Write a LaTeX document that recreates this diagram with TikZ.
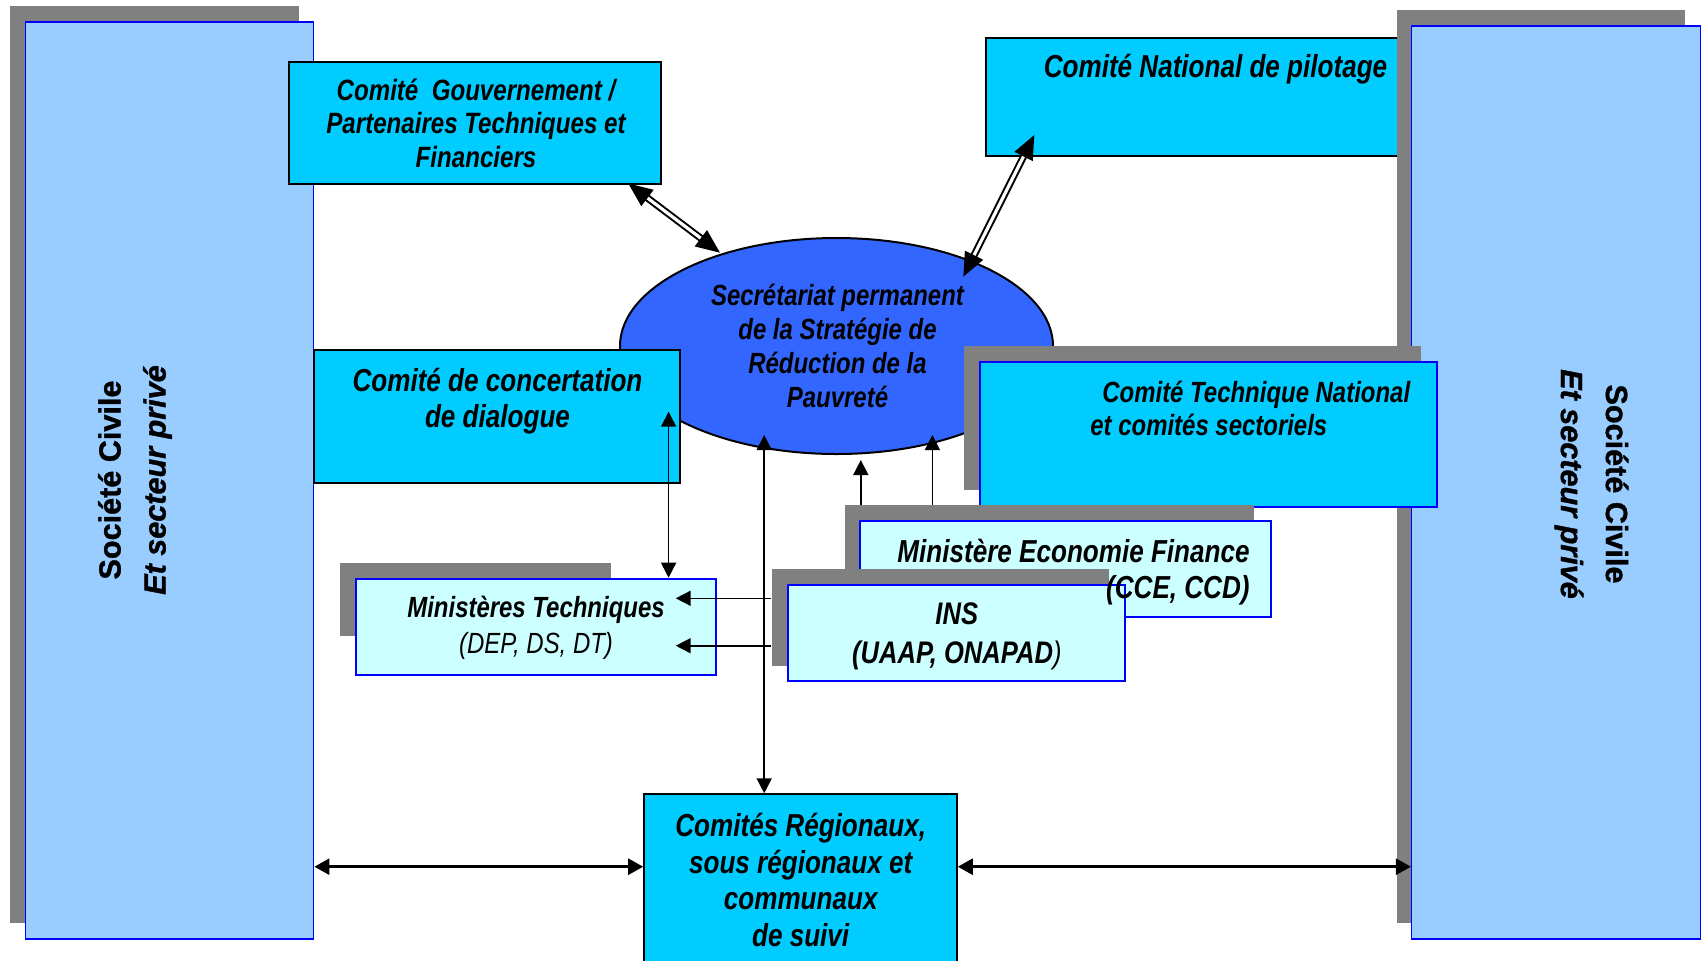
\documentclass[tikz,border=0pt]{standalone}
\usepackage{fontspec}
\setmainfont{Liberation Sans}
\newfontfamily\nar[FakeStretch=0.82]{Liberation Sans}
\newfontfamily\sideb[BoldFeatures={FakeBold=1.2},BoldItalicFeatures={FakeBold=1.2}]{Liberation Sans}
\usetikzlibrary{arrows.meta,fit,shapes.geometric}
\definecolor{sidebl}{HTML}{99CCFF}
\definecolor{cyanb}{HTML}{00CCFF}
\definecolor{lcyan}{HTML}{CCFFFF}
\definecolor{shad}{HTML}{808080}
\definecolor{ellb}{HTML}{3366FF}
\definecolor{bord}{HTML}{0000FF}
\newcommand\fz[2]{\fontsize{#1}{#2}\selectfont}
\begin{document}
\begin{tikzpicture}[x=0.5pt,y=-0.5pt,
  shadowbox/.style={fill=shad, draw=none, inner sep=0pt},
  sidebox/.style={fill=sidebl, draw=bord, line width=0.7pt, inner sep=0pt},
  blackbox/.style={fill=cyanb, draw=black, line width=1pt, inner sep=0pt},
  bluebox/.style={fill=cyanb, draw=bord, line width=1pt, inner sep=0pt},
  lightbox/.style={fill=lcyan, draw=bord, line width=1pt, inner sep=0pt},
  lbl/.style={inner sep=0pt, align=center, font=\nar\bfseries\itshape},
  sidelbl/.style={inner sep=0pt, align=center, font=\sideb\bfseries\fz{15.3pt}{22.5pt}},
  thinarrow/.style={line width=0.8pt, arrows={-Triangle[length=7.5pt,width=7.5pt]}},
  thinboth/.style={line width=0.8pt, arrows={Triangle[length=7.5pt,width=7.5pt]-Triangle[length=7.5pt,width=7.5pt]}},
  thickboth/.style={line width=1.3pt, arrows={Triangle[length=7.5pt,width=8pt]-Triangle[length=7.5pt,width=8pt]}},
  dblarrow/.style={line width=1pt, double=white, double distance=1.6pt,
     arrows={Triangle[length=12pt,width=10pt]-Triangle[length=12pt,width=10pt]}}]
\useasboundingbox (0,0) rectangle (1702,960);
\clip (0,0) rectangle (1702,960);
% left side
\node[shadowbox, fit={(9.8,6) (298.5,922.7)}] (ls) {};
\node[sidebox, fit={(25.5,22) (313.7,939)}] (lb) {};
% top boxes
\node[blackbox, fit={(289,61.7) (660.5,183.7)}] (cg) {};
\node[blackbox, fit={(985.6,37.7) (1445,156.3)}] (nat) {};
% ellipse
\node[ellipse, fill=ellb, draw=black, line width=1pt, minimum width=216.5pt, minimum height=108pt, inner sep=0pt] (sp) at (836.5,346) {};
% right side
\node[shadowbox, fit={(1396.5,10) (1685,922.7)}] (rs) {};
\node[sidebox, fit={(1411.6,26) (1700.4,939)}] (rb) {};
% concertation
\node[blackbox, fit={(313.7,350) (680,482.7)}] (cc) {};
% technique national
\node[shadowbox, fit={(963.9,346) (1420.9,490)}] (tns) {};
\node[bluebox, fit={(979.6,362.3) (1437,506.7)}] (tn) {};
% ministere economie
\node[shadowbox, fit={(844.5,505) (1254,601)}] (mes) {};
\node[lightbox, fit={(860,520.7) (1270.5,617.3)}] (me) {};
% INS
\node[shadowbox, fit={(771.8,569) (1109,665.7)}] (inss) {};
\node[lightbox, fit={(787.5,585) (1125,681)}] (ins) {};
% ministeres techniques
\node[shadowbox, fit={(339.8,563.3) (610.6,635.7)}] (mts) {};
\node[lightbox, fit={(356,578.7) (716.4,675)}] (mt) {};
% regionaux
\node[blackbox, fit={(644.2,794.3) (956.8,975)}] (rg) {};
% texts
\node[sidelbl, rotate=90] (lt) at (135,480) {Société Civile\\\itshape Et secteur privé};
\node[sidelbl, rotate=-90] (rt) at (1591.5,484) {Société Civile\\\itshape Et secteur privé};
\node[lbl, font=\nar\bfseries\itshape\fz{14.7pt}{16.75pt}] (cgt) at (476,123) {Comité\ \ Gouvernement /\\Partenaires Techniques et\\Financiers};
\node[lbl, font=\nar\bfseries\itshape\fz{15.9pt}{18.3pt}] (natt) at (1215.5,69) {Comité National de pilotage};
\node[lbl, font=\nar\bfseries\itshape\fz{14.6pt}{17pt}] (spt) at (837.5,346) {Secrétariat permanent\\de la Stratégie de\\Réduction de la\\Pauvreté};
\node[lbl, font=\nar\bfseries\itshape\fz{15.9pt}{18.3pt}] (cct) at (497.5,401) {Comité de concertation\\de dialogue};
\node[lbl, align=left, anchor=west, font=\nar\bfseries\itshape\fz{14.6pt}{16.65pt}] (tnt) at (1090,408.3) {\hspace*{6pt}Comité Technique National\\et comités sectoriels};
\node[lbl, align=right, anchor=east, font=\nar\bfseries\itshape\fz{15.9pt}{18.3pt}] (met) at (1250,572.3) {Ministère Economie Finance\\(CCE, CCD)};
\node[lbl, font=\nar\bfseries\itshape\fz{15.6pt}{19.2pt}] (inst) at (956.8,636.5) {INS\\(UAAP, ONAPAD{\mdseries)}};
\node[lbl, font=\nar\bfseries\itshape\fz{14.6pt}{18.3pt}] (mtt) at (536,628) {Ministères Techniques\\{\mdseries(DEP, DS, DT)}};
\node[lbl, font=\nar\bfseries\itshape\fz{15.9pt}{18.35pt}] (rgt) at (800.7,880) {Comités Régionaux,\\sous régionaux et\\communaux\\de suivi};
% arrow end points
\coordinate (cga) at (628.3,183.5);
\coordinate (spa) at (720,252.7);
\coordinate (nata) at (1034.3,135);
\coordinate (spb) at (963.3,276.7);
\coordinate (v1) at (668.6,411.7);
\coordinate (v2) at (764.2,435);
\coordinate (h1) at (675.7,598.3);
\coordinate (h2) at (675.7,645.7);
\coordinate (u1) at (860.8,460);
\coordinate (u2) at (932.4,435);
\coordinate (bl) at (0,866.7);
% connectors
\draw[dblarrow] (cga) -- (spa);
\draw[dblarrow] (nata) -- (spb);
\draw[thinboth] (v1) -- (v1 |- mt.north);
\draw[thinboth] (v2) -- (v2 |- rg.north);
\draw[thinarrow] (inss.west |- h1) -- (h1);
\draw[thinarrow] (inss.west |- h2) -- (h2);
\draw[thinarrow] (u1 |- mes.north) -- (u1);
\draw[thinarrow] (u2 |- mes.north) -- (u2);
\draw[thickboth] (lb.east |- bl) -- (rg.west |- bl);
\draw[thickboth] (rg.east |- bl) -- (rb.west |- bl);
\end{tikzpicture}
\end{document}
